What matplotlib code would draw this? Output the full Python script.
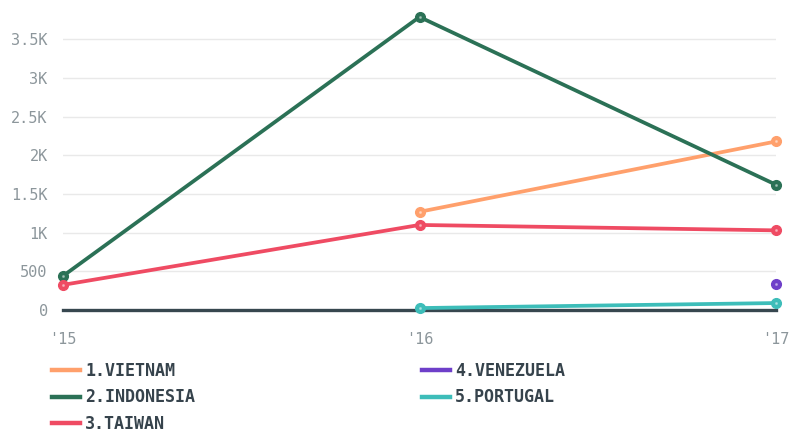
import matplotlib.pyplot as plt
from matplotlib.ticker import FixedLocator

# Data
years = ["'15", "'16", "'17"]
vietnam = [None, 1270, 2180]
indonesia = [440, 3790, 1620]
taiwan = [325, 1100, 1030]
venezuela = [None, None, 330]
portugal = [None, 25, 90]

series = [
    ("1.VIETNAM", vietnam, "#ffa06c"),
    ("2.INDONESIA", indonesia, "#2b7156"),
    ("3.TAIWAN", taiwan, "#ef4b63"),
    ("4.VENEZUELA", venezuela, "#6e3fc9"),
    ("5.PORTUGAL", portugal, "#3dbdb9"),
]

yticks = [0, 500, 1000, 1500, 2000, 2500, 3000, 3500]
ylabels = ["0", "500", "1K", "1.5K", "2K", "2.5K", "3K", "3.5K"]

mono = "DejaVu Sans Mono"
tick_color = "#8c969b"
text_color = "#36434c"

fig = plt.figure(figsize=(7.91, 4.33), dpi=100)
ax = fig.add_axes([63 / 791, 1 - 310 / 433, (776 - 63) / 791, 300 / 433])

x = list(range(len(years)))
for name, vals, color in series:
    xs = [xi for xi, v in zip(x, vals) if v is not None]
    ys = [v for v in vals if v is not None]
    ax.plot(xs, ys, color=color, lw=2.7, marker="o", markersize=7,
            markerfacecolor=color, markeredgecolor=color, clip_on=False,
            zorder=3, label=name)
    ax.plot(xs, ys, ls="none", marker="o", markersize=1.2, color="#ffffff",
            alpha=0.35, clip_on=False, zorder=4)

ax.axhline(0, color="#37474f", lw=2.4, zorder=2, clip_on=False)

ax.set_xlim(0, 2)
ax.set_ylim(0, 3880)
ax.yaxis.set_major_locator(FixedLocator(yticks))
ax.set_yticklabels(ylabels)
ax.set_xticks(x)
ax.set_xticklabels(years)
ax.grid(axis="y", color="#e9e9e9", lw=1, zorder=0)
for s in ax.spines.values():
    s.set_visible(False)
ax.tick_params(axis="y", length=0, pad=11, labelsize=11, labelcolor=tick_color)
ax.tick_params(axis="x", length=0, pad=16, labelsize=11, labelcolor=tick_color)
for lab in ax.get_xticklabels() + ax.get_yticklabels():
    lab.set_family(mono)

# Legend below the plot, two columns
leg_handles = [plt.Line2D([], [], color=c, lw=3.2) for _, _, c in series]
leg = fig.legend(leg_handles, [n for n, _, _ in series], ncol=2,
                 loc="upper left", bbox_to_anchor=(37 / 791, 1 - 347 / 433),
                 frameon=False, handlelength=1.7, handletextpad=0.3,
                 columnspacing=13.6, labelspacing=0.5,
                 prop={"family": mono, "weight": "bold", "size": 12})
for t in leg.get_texts():
    t.set_color(text_color)

fig.savefig("out.png", dpi=100)
